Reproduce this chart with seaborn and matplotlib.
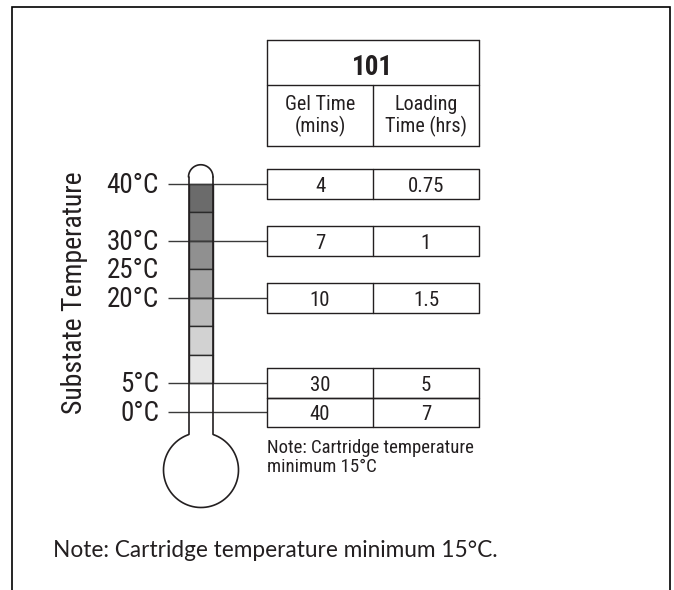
import numpy as np
import matplotlib
matplotlib.use("Agg")
import matplotlib.pyplot as plt
from matplotlib import font_manager as fm
import seaborn as sns

# ---------------- data ----------------
row_temps = [40, 30, 20, 5, 0]
gel_time = ["4", "7", "10", "30", "40"]
loading_time = ["0.75", "1", "1.5", "5", "7"]
label_temps = [40, 30, 25, 20, 5, 0]
label_texts = ["40°C", "30°C", "25°C", "20°C", "5°C", "0°C"]
band_tops = [40, 35, 30, 25, 20, 15, 10]
band_bottoms = [35, 30, 25, 20, 15, 10, 5]
band_colors = ["#6b6b6b", "#7e7e7e", "#909090", "#a4a4a4", "#bababa", "#d2d2d2", "#e6e6e6"]
table_title = "101"
col_headers = ["Gel Time\n(mins)", "Loading\nTime (hrs)"]
axis_title = "Substate Temperature"
inner_note = "Note: Cartridge temperature\nminimum 15°C"
bottom_note = "Note: Cartridge temperature minimum 15°C."

sns.set_theme(style="white")


def pick(names):
    for n in names:
        try:
            fm.findfont(fm.FontProperties(family=n), fallback_to_default=False)
            return n
        except Exception:
            continue
    return "DejaVu Sans"


COND = pick(["Liberation Sans Narrow", "Roboto Condensed", "Liberation Sans"])
HUM = pick(["Lato", "Open Sans", "Noto Sans"])
INK = "#231f20"

fig = plt.figure(figsize=(6.74, 5.90), dpi=100)
ax = fig.add_axes([0, 0, 1, 1])

# vertical scale: temperature axis (px = 412 - 5.7*T)
PX0, PPD = 412.0, 5.7


def T(px):
    return (PX0 - np.asarray(px, dtype=float)) / PPD


ax.set_xlim(0, 674)
ax.set_ylim(T(590), T(0))
ax.axis("off")

# frame (open at the bottom)
ax.plot([12, 12, 670, 670], [T(590), T(7.5), T(7.5), T(590)], color="black", lw=1.2, solid_joinstyle="miter")

# thermometer geometry
tx0, tx1 = 188.5, 213.0
tcx = (tx0 + tx1) / 2
tr = (tx1 - tx0) / 2
cap_cy = 177.0
bulb_cx, bulb_cy, bulb_r = 201.0, 470.0, 37.5

# colored bands
ax.bar([tcx] * len(band_tops), np.array(band_bottoms) - np.array(band_tops), bottom=band_tops,
       width=tx1 - tx0, color=band_colors, edgecolor="#2a2a2a", linewidth=1.0, zorder=2)

# tube outline
ax.plot([tx0, tx0], [T(cap_cy), T(434)], color=INK, lw=1.2, zorder=4)
ax.plot([tx1, tx1], [T(cap_cy), T(434)], color=INK, lw=1.2, zorder=4)
t = np.linspace(np.pi, 2 * np.pi, 60)
ax.plot(tcx + tr * np.cos(t), T(cap_cy + tr * np.sin(t)), color=INK, lw=1.2, zorder=4)
half = np.degrees(np.arcsin(tr / bulb_r))
t = np.radians(np.linspace(-90 + half, 270 - half, 240))
ax.plot(bulb_cx + bulb_r * np.cos(t), T(bulb_cy + bulb_r * np.sin(t)), color=INK, lw=1.2, zorder=4)

# tick lines from labels to table rows
ax.hlines(row_temps, 168, 267, color="#3a3a3a", lw=1.0, zorder=3)

# scale labels
for tv, s in zip(label_temps, label_texts):
    ax.text(159, tv - 9 / PPD, s, ha="right", va="baseline", fontsize=19.5,
            family=COND, color=INK)

ax.text(75, T(293), axis_title, rotation=90, ha="center", va="center", fontsize=20,
        family=COND, color=INK)

# table
tl, tm, tr_ = 267.0, 373.0, 479.0
box_kw = dict(color=INK, lw=1.0, zorder=3)
# header
for y in [40, 85, 146]:
    ax.plot([tl, tr_], [T(y), T(y)], **box_kw)
ax.plot([tl, tl], [T(40), T(146)], **box_kw)
ax.plot([tr_, tr_], [T(40), T(146)], **box_kw)
ax.plot([tm, tm], [T(85), T(146)], **box_kw)
ax.text((tl + tr_) / 2, T(75), table_title, ha="center", va="baseline", fontsize=19.5,
        fontweight="bold", family=COND, color=INK)
ax.text((tl + tm) / 2, T(116), col_headers[0], ha="center", va="center", fontsize=14.5,
        family=COND, color=INK, linespacing=1.1)
ax.text((tm + tr_) / 2, T(116), col_headers[1], ha="center", va="center", fontsize=14.5,
        family=COND, color=INK, linespacing=1.1)

# data rows
HALF = 15.0 / PPD
for i, (tv, g, l) in enumerate(zip(row_temps, gel_time, loading_time)):
    up = HALF if i == 0 else min(HALF, (row_temps[i - 1] - tv) / 2)
    dn = HALF if i == len(row_temps) - 1 else min(HALF, (tv - row_temps[i + 1]) / 2)
    top, bot = tv + up, tv - dn
    ax.plot([tl, tr_, tr_, tl, tl], [top, top, bot, bot, top], **box_kw)
    ax.plot([tm, tm], [top, bot], **box_kw)
    ax.text((tl + tm) / 2, tv - 8 / PPD, g, ha="center", va="baseline", fontsize=15,
            family=COND, color=INK)
    ax.text((tm + tr_) / 2, tv - 8 / PPD, l, ha="center", va="baseline", fontsize=15,
            family=COND, color=INK)

ax.text(267, T(439), inner_note, ha="left", va="top", fontsize=13.5, family=COND,
        color=INK, linespacing=1.1)

ax.text(53, T(557), bottom_note, ha="left", va="baseline", fontsize=16.3, family=HUM,
        color=INK)

fig.savefig("out.png", dpi=100)
